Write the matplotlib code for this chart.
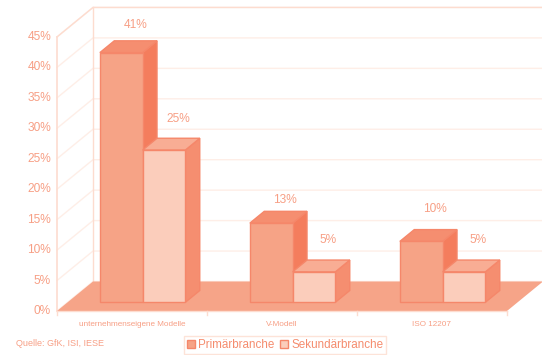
import matplotlib
matplotlib.use('Agg')
import matplotlib.pyplot as plt
from matplotlib.patches import Polygon, Patch

categories = ['unternehmenseigene Modelle', 'V-Modell', 'ISO 12207']
primaer = [41, 13, 10]
sekundaer = [25, 5, 5]
y_ticks = [0, 5, 10, 15, 20, 25, 30, 35, 40, 45]

# kleine Korrekturen der Wertelabels (in Punkt)
nudge_primaer = [-2, -5, 1]
nudge_sekundaer = [0, 1, 1]

# Farben
TEXT = '#f79f85'
LEGEND_TEXT = '#f58c6e'
EDGE = '#f5876a'
GRID = '#feeee7'
WALL = '#fddccf'
FLOOR = '#f6a488'
DARK = ('#f6a386', '#f47d5d', '#f58e70')   # vorne, Seite, oben
LIGHT = ('#fbcdbb', '#f58e70', '#f8ad94')

# Skalen des Diagramms: 150 px je Kategorie, 6.09 px je Prozentpunkt
W, H = 542, 355
X0, Y0 = 57, 311
PX_CAT, PX_PCT = 150.0, 6.09
DEPTH_X = 36 / PX_CAT      # Tiefe der Wand in Kategorien
DEPTH_Y = 29.5 / PX_PCT    # Tiefe der Wand in Prozentpunkten
BAR_W = 0.285
BAR_D0, BAR_D1 = 0.295, 0.695
N = len(categories)


def proj(x, y, d=0.0):
    return x + d * DEPTH_X, y + d * DEPTH_Y


def draw_bar(ax, x, val, colors):
    front, side, top = colors
    x1 = x + BAR_W
    faces = [
        ([proj(x1, 0, BAR_D0), proj(x1, 0, BAR_D1), proj(x1, val, BAR_D1), proj(x1, val, BAR_D0)], side),
        ([proj(x, val, BAR_D0), proj(x1, val, BAR_D0), proj(x1, val, BAR_D1), proj(x, val, BAR_D1)], top),
        ([proj(x, 0, BAR_D0), proj(x1, 0, BAR_D0), proj(x1, val, BAR_D0), proj(x, val, BAR_D0)], front),
    ]
    for pts, col in faces:
        ax.add_patch(Polygon(pts, closed=True, facecolor=col, edgecolor=EDGE, linewidth=1.0, zorder=3))


fig = plt.figure(figsize=(W / 100, H / 100), dpi=100)
plt.rcParams['font.family'] = ['Liberation Sans', 'DejaVu Sans']
ax = fig.add_axes([0, 0, 1, 1])
ax.set_xlim(-X0 / PX_CAT, (W - X0) / PX_CAT)
ax.set_ylim(-(H - Y0) / PX_PCT, Y0 / PX_PCT)
ax.axis('off')

# Gitter auf Seiten- und Rueckwand
for t in y_ticks:
    xa, ya = proj(0, t, 0)
    xb, yb = proj(0, t, 1)
    xc, yc = proj(N, t, 1)
    ax.plot([xa, xb, xc], [ya, yb, yc], color=GRID, lw=1.0, zorder=1)
    ax.text(xa - 0.04, t, f'{t}%', ha='right', va='center', color=TEXT, fontsize=8.6)

top = y_ticks[-1]
ax.plot(*zip(proj(0, top, 0), proj(0, top, 1), proj(N, top, 1)), color=WALL, lw=1.0, zorder=1)
ax.plot(*zip(proj(0, 0, 1), proj(0, top, 1)), color=WALL, lw=1.0, zorder=1)
ax.plot([0, 0], [0, top], color=WALL, lw=1.2, zorder=2)

# Boden
ax.add_patch(Polygon([proj(0, 0), proj(N, 0), proj(N, 0, 1), proj(0, 0, 1)],
                     closed=True, facecolor=FLOOR, edgecolor='none', zorder=2))
ax.plot([0, N], [0, 0], color=WALL, lw=1.0, zorder=2)
for i in range(N + 1):
    ax.plot([i, i], [0, -0.7], color=WALL, lw=1.0, zorder=2)

# Balken
for i in range(N):
    left = i + 0.5 - BAR_W
    draw_bar(ax, left, primaer[i], DARK)
    draw_bar(ax, left + BAR_W, sekundaer[i], LIGHT)

    for off, val, nudge in [(0, primaer[i], nudge_primaer[i]), (BAR_W, sekundaer[i], nudge_sekundaer[i])]:
        lx, ly = proj(left + off + BAR_W / 2, val, BAR_D0)
        ax.annotate(f'{val}%', (lx, ly), xytext=(10, 22 + nudge), textcoords='offset points',
                    ha='center', va='center', color=TEXT, fontsize=8.6, zorder=4)

    ax.annotate(categories[i], (i + 0.5, 0), xytext=(0, -9.4), textcoords='offset points',
                ha='center', va='center', color=TEXT, fontsize=5.9)

ax.text(-41 / PX_CAT, -32 / PX_PCT, 'Quelle: GfK, ISI, IESE', ha='left', va='center',
        color=TEXT, fontsize=6.5)

handles = [Patch(facecolor=DARK[0], edgecolor=EDGE, label='Primärbranche'),
           Patch(facecolor=LIGHT[0], edgecolor=EDGE, label='Sekundärbranche')]
leg = ax.legend(handles=handles, loc='lower left', bbox_to_anchor=(184 / W, 1 / H), ncol=2,
                fontsize=8.4, frameon=True, fancybox=False, edgecolor='#fde3d8', framealpha=1,
                handlelength=0.7, handleheight=0.8, handletextpad=0.25, columnspacing=0.5,
                borderpad=0.25, borderaxespad=0.0)
for txt in leg.get_texts():
    txt.set_color(LEGEND_TEXT)

fig.savefig('out.png', dpi=100)
